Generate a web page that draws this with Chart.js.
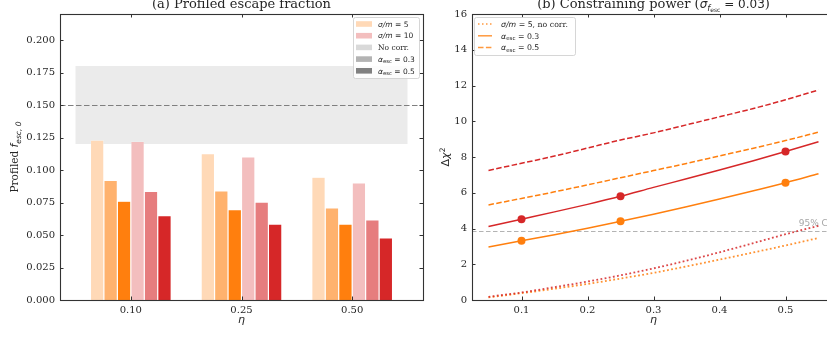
<!DOCTYPE html>
<html><head><meta charset="utf-8">
<script src="https://cdn.jsdelivr.net/npm/chart.js@4/dist/chart.umd.min.js"></script>
<style>
html,body{margin:0;padding:0;background:#fff;width:827px;height:338px;overflow:hidden;position:relative}
canvas{position:absolute;top:0}
#c1{left:0}
#c2{left:430px}
</style></head><body>
<canvas id="c1" width="440" height="338"></canvas>
<canvas id="c2" width="420" height="338"></canvas>
<script>
// ---------- Panel (a): profiled escape fraction ----------
const etaCategories = [0, 1, 2];
const etaLabels = ['0.10', '0.25', '0.50'];
const fescS5NoCorr  = [0.123, 0.1125, 0.0945];
const fescS5A03     = [0.092, 0.084, 0.0708];
const fescS5A05     = [0.076, 0.0695, 0.0584];
const fescS10NoCorr = [0.122, 0.110, 0.090];
const fescS10A03    = [0.0835, 0.0753, 0.0616];
const fescS10A05    = [0.0648, 0.0584, 0.0478];
const fescTicks = [0, 0.025, 0.05, 0.075, 0.1, 0.125, 0.15, 0.175, 0.2];
const fescFiducial = 0.15;
const fescBand = [0.12, 0.18];
const bandEta = [-0.5, 2.5];

// ---------- Panel (b): constraining power ----------
const etaGrid = [0.05, 0.10, 0.15, 0.20, 0.25, 0.30, 0.35, 0.40, 0.45, 0.50, 0.55];
const chi2S5NoCorr  = [0.15, 0.38, 0.63, 0.90, 1.20, 1.52, 1.88, 2.26, 2.65, 3.05, 3.47];
const chi2S10NoCorr = [0.18, 0.42, 0.72, 1.03, 1.38, 1.77, 2.20, 2.67, 3.17, 3.68, 4.15];
const chi2S5A03     = [2.97, 3.31, 3.65, 4.01, 4.40, 4.80, 5.22, 5.65, 6.10, 6.56, 7.06];
const chi2S10A03    = [4.11, 4.52, 4.93, 5.35, 5.80, 6.30, 6.78, 7.27, 7.78, 8.31, 8.85];
const chi2S5A05     = [5.32, 5.68, 6.05, 6.44, 6.84, 7.24, 7.64, 8.06, 8.48, 8.92, 9.39];
const chi2S10A05    = [7.25, 7.65, 8.05, 8.50, 8.95, 9.35, 9.80, 10.25, 10.70, 11.20, 11.75];
const etaMarks = [0.10, 0.25, 0.50];
const chi2MarksS5  = [3.31, 4.40, 6.56];
const chi2MarksS10 = [4.52, 5.80, 8.31];
const etaTicks = [0.1, 0.2, 0.3, 0.4, 0.5];
const chi2Ticks = [0, 2, 4, 6, 8, 10, 12, 14, 16];
const chi2Threshold = 3.84;
const clLabelEta = 0.52;

// ---------- style ----------
const SERIF = '"DejaVu Serif"';
const SANS = '"DejaVu Sans"';
const TXT = '#262626';
const SPINE = '#333333';
const ORANGE = '#ff7f0e';
const RED = '#d62728';
const f = (size, fam, style) => `${style || ''} ${size}px ${fam}`;

function drawRich(ctx, x, y, segs, align) {
  let w = 0;
  segs.forEach(s => { ctx.font = s.f; s.w = ctx.measureText(s.t).width; w += s.w; });
  let cx = align === 'center' ? x - w / 2 : (align === 'right' ? x - w : x);
  segs.forEach(s => { ctx.font = s.f; ctx.fillText(s.t, cx, y + (s.dy || 0)); cx += s.w; });
  return w;
}

function drawFrameAndTicks(chart, xTicks, yTicks) {
  const { ctx, chartArea: a, scales: { x, y } } = chart;
  const L = 3.5;
  ctx.save();
  ctx.strokeStyle = SPINE;
  ctx.lineWidth = 1;
  ctx.beginPath();
  xTicks.forEach(v => {
    const px = Math.round(x.getPixelForValue(v)) + 0.5;
    ctx.moveTo(px, a.bottom); ctx.lineTo(px, a.bottom - L);
    ctx.moveTo(px, a.top); ctx.lineTo(px, a.top + L);
  });
  yTicks.forEach(v => {
    const py = Math.round(y.getPixelForValue(v)) + 0.5;
    ctx.moveTo(a.left, py); ctx.lineTo(a.left + L, py);
    ctx.moveTo(a.right, py); ctx.lineTo(a.right - L, py);
  });
  ctx.stroke();
  ctx.lineWidth = 1.1;
  ctx.strokeRect(Math.round(a.left) + 0.5, Math.round(a.top) + 0.5, Math.round(a.right - a.left), Math.round(a.bottom - a.top));
  ctx.restore();
}

function legendBox(ctx, x, y, w, h) {
  ctx.save();
  ctx.fillStyle = 'rgba(255,255,255,0.85)';
  ctx.strokeStyle = '#cccccc';
  ctx.lineWidth = 0.8;
  ctx.beginPath();
  ctx.roundRect(x + 0.5, y + 0.5, w, h, 2);
  ctx.fill(); ctx.stroke();
  ctx.restore();
}

// ---------- Panel (a) chart ----------
const seriesA = [
  { label: 'σ/m=5, no corr.',  values: fescS5NoCorr,  color: '#ffd9b7' },
  { label: 'σ/m=5, α=0.3',     values: fescS5A03,     color: '#ffb26e' },
  { label: 'σ/m=5, α=0.5',     values: fescS5A05,     color: ORANGE },
  { label: 'σ/m=10, no corr.', values: fescS10NoCorr, color: '#f3bebe' },
  { label: 'σ/m=10, α=0.3',    values: fescS10A03,    color: '#e67d7e' },
  { label: 'σ/m=10, α=0.5',    values: fescS10A05,    color: RED }
];

const panelA = {
  id: 'panelA',
  beforeDatasetsDraw(chart) {
    const { ctx, chartArea: a, scales: { x, y } } = chart;
    ctx.save();
    const x0 = x.getPixelForValue(bandEta[0]), x1 = x.getPixelForValue(bandEta[1]);
    const y0 = y.getPixelForValue(fescBand[1]), y1 = y.getPixelForValue(fescBand[0]);
    ctx.fillStyle = '#ebebeb';
    ctx.fillRect(x0, y0, x1 - x0, y1 - y0);
    ctx.strokeStyle = '#7f7f7f';
    ctx.lineWidth = 1.2;
    ctx.setLineDash([5.5, 2.5]);
    const yf = Math.round(y.getPixelForValue(fescFiducial)) + 0.5;
    ctx.beginPath(); ctx.moveTo(a.left, yf); ctx.lineTo(a.right, yf); ctx.stroke();
    ctx.restore();
  },
  afterDraw(chart) {
    const { ctx, chartArea: a } = chart;
    drawFrameAndTicks(chart, etaCategories, fescTicks);
    ctx.save();
    ctx.fillStyle = TXT;
    ctx.textBaseline = 'alphabetic';
    // title
    drawRich(ctx, (a.left + a.right) / 2, 8, [{ t: '(a) Profiled escape fraction', f: f(13, SERIF) }], 'center');
    // x title
    drawRich(ctx, (a.left + a.right) / 2, 323, [{ t: 'η', f: f(11, SANS, 'italic') }], 'center');
    // y title (rotated)
    ctx.save();
    ctx.translate(18, (a.top + a.bottom) / 2);
    ctx.rotate(-Math.PI / 2);
    drawRich(ctx, 0, 0, [
      { t: 'Profiled ', f: f(10.5, SERIF) },
      { t: 'f', f: f(10.5, SANS, 'italic') },
      { t: 'esc, 0', f: f(7.5, SANS, 'italic'), dy: 2.5 }
    ], 'center');
    ctx.restore();
    // legend
    const lx = a.right - 70, ly = a.top + 3;
    legendBox(ctx, lx, ly, 66, 61);
    const rows = [
      { c: '#ffd9b7', s: [{ t: 'σ/m', f: f(7.5, SANS, 'italic') }, { t: ' = 5', f: f(7.5, SANS) }] },
      { c: '#f3bebe', s: [{ t: 'σ/m', f: f(7.5, SANS, 'italic') }, { t: ' = 10', f: f(7.5, SANS) }] },
      { c: '#d9d9d9', s: [{ t: 'No corr.', f: f(7.5, SERIF) }] },
      { c: '#b3b3b3', s: [{ t: 'α', f: f(7.5, SANS, 'italic') }, { t: 'esc', f: f(5.3, SANS), dy: 1.6 }, { t: ' = 0.3', f: f(7.5, SANS) }] },
      { c: '#808080', s: [{ t: 'α', f: f(7.5, SANS, 'italic') }, { t: 'esc', f: f(5.3, SANS), dy: 1.6 }, { t: ' = 0.5', f: f(7.5, SANS) }] }
    ];
    rows.forEach((r, i) => {
      const cy = ly + 7 + i * 11.7;
      ctx.fillStyle = r.c;
      ctx.fillRect(lx + 3, cy - 2.8, 16, 5.6);
      ctx.fillStyle = TXT;
      drawRich(ctx, lx + 25, cy + 2.7, r.s, 'left');
    });
    ctx.restore();
  }
};

new Chart(document.getElementById('c1'), {
  type: 'bar',
  data: {
    datasets: seriesA.map(s => ({
      label: s.label,
      data: etaCategories.map((c, i) => ({ x: c, y: s.values[i] })),
      backgroundColor: s.color,
      borderColor: 'rgba(255,255,255,0.45)',
      borderWidth: 0.6,
      barPercentage: 1,
      categoryPercentage: 0.73
    }))
  },
  options: {
    responsive: false, animation: false, devicePixelRatio: 1,
    layout: { padding: { left: 0, right: 17, top: 14, bottom: 0 } },
    plugins: { legend: { display: false }, tooltip: { enabled: false }, title: { display: false } },
    scales: {
      x: {
        type: 'linear', min: -0.64, max: 2.64, offset: false,
        grid: { display: false, drawTicks: false }, border: { display: false },
        afterBuildTicks: s => { s.ticks = etaCategories.map(v => ({ value: v })); },
        afterFit: s => { s.height = 38; },
        ticks: { callback: v => etaLabels[etaCategories.indexOf(v)], font: { family: 'DejaVu Serif', size: 10 }, color: TXT, padding: 4, maxRotation: 0, autoSkip: false }
      },
      y: {
        min: 0, max: 0.22,
        grid: { display: false, drawTicks: false }, border: { display: false },
        afterBuildTicks: s => { s.ticks = fescTicks.map(v => ({ value: v })); },
        afterFit: s => { s.width = 60; },
        ticks: { callback: v => v.toFixed(3), font: { family: 'DejaVu Serif', size: 10 }, color: TXT, padding: 5, autoSkip: false }
      }
    }
  },
  plugins: [panelA]
});

// ---------- Panel (b) chart ----------
const pts = (xs, ys) => xs.map((x, i) => ({ x, y: ys[i] }));
const lineDs = (ys, color, dash, width) => ({
  data: pts(etaGrid, ys), borderColor: color, borderWidth: width || 1.5, borderDash: dash,
  pointRadius: 0, fill: false, cubicInterpolationMode: 'monotone', borderCapStyle: 'butt'
});
const markDs = (ys, color) => ({
  data: pts(etaMarks, ys), showLine: false, pointRadius: 4, pointBackgroundColor: color,
  pointBorderColor: color, pointBorderWidth: 0, borderColor: color
});

const panelB = {
  id: 'panelB',
  beforeDatasetsDraw(chart) {
    const { ctx, chartArea: a, scales: { x, y } } = chart;
    ctx.save();
    ctx.strokeStyle = '#aaaaaa';
    ctx.lineWidth = 0.9;
    ctx.setLineDash([4.5, 2.5]);
    const yc = Math.round(y.getPixelForValue(chi2Threshold)) + 0.5;
    ctx.beginPath(); ctx.moveTo(a.left, yc); ctx.lineTo(a.right, yc); ctx.stroke();
    ctx.setLineDash([]);
    ctx.fillStyle = '#a6a6a6';
    ctx.textBaseline = 'alphabetic';
    ctx.font = f(9, SANS);
    ctx.fillText('95% CL', x.getPixelForValue(clLabelEta), yc - 5.5);
    ctx.restore();
  },
  afterDraw(chart) {
    const { ctx, chartArea: a } = chart;
    drawFrameAndTicks(chart, etaTicks, chi2Ticks);
    ctx.save();
    ctx.fillStyle = TXT;
    ctx.textBaseline = 'alphabetic';
    drawRich(ctx, (a.left + a.right) / 2, 8, [
      { t: '(b) Constraining power (', f: f(13, SERIF) },
      { t: 'σ', f: f(12, SANS, 'italic') },
      { t: 'f', f: f(8.5, SANS, 'italic'), dy: 2.5 },
      { t: 'esc', f: f(6, SANS), dy: 4.2 },
      { t: ' = 0.03', f: f(12, SANS) },
      { t: ')', f: f(13, SERIF) }
    ], 'center');
    drawRich(ctx, (a.left + a.right) / 2, 323, [{ t: 'η', f: f(11, SANS, 'italic') }], 'center');
    ctx.save();
    ctx.translate(19, (a.top + a.bottom) / 2);
    ctx.rotate(-Math.PI / 2);
    drawRich(ctx, 0, 0, [
      { t: 'Δ', f: f(11, SANS) },
      { t: 'χ', f: f(11, SANS, 'italic') },
      { t: '2', f: f(7.5, SANS), dy: -4.5 }
    ], 'center');
    ctx.restore();
    // legend
    const lx = a.left + 2, ly = a.top + 3;
    legendBox(ctx, lx, ly, 101, 38);
    const rows = [
      { dash: [1.5, 2.5], s: [{ t: 'σ/m', f: f(7.8, SANS, 'italic') }, { t: ' = 5', f: f(7.8, SANS) }, { t: ', no corr.', f: f(7.8, SERIF) }] },
      { dash: [], s: [{ t: 'α', f: f(7.8, SANS, 'italic') }, { t: 'esc', f: f(5.5, SANS), dy: 1.6 }, { t: ' = 0.3', f: f(7.8, SANS) }] },
      { dash: [5.5, 2.4], s: [{ t: 'α', f: f(7.8, SANS, 'italic') }, { t: 'esc', f: f(5.5, SANS), dy: 1.6 }, { t: ' = 0.5', f: f(7.8, SANS) }] }
    ];
    rows.forEach((r, i) => {
      const cy = ly + 7 + i * 11.8;
      ctx.save();
      ctx.strokeStyle = ORANGE;
      ctx.globalAlpha = 0.8;
      ctx.lineWidth = 1.5;
      ctx.setLineDash(r.dash);
      ctx.beginPath(); ctx.moveTo(lx + 4, cy); ctx.lineTo(lx + 18, cy); ctx.stroke();
      ctx.restore();
      ctx.fillStyle = TXT;
      drawRich(ctx, lx + 27, cy + 2.8, r.s, 'left');
    });
    ctx.restore();
  }
};

new Chart(document.getElementById('c2'), {
  type: 'line',
  data: {
    datasets: [
      markDs(chi2MarksS10, RED),
      markDs(chi2MarksS5, ORANGE),
      lineDs(chi2S10A03, RED, []),
      lineDs(chi2S5A03, ORANGE, []),
      lineDs(chi2S10A05, RED, [5.5, 2.4]),
      lineDs(chi2S5A05, ORANGE, [5.5, 2.4]),
      lineDs(chi2S10NoCorr, 'rgba(214,39,40,0.85)', [1.8, 2.4], 1.8),
      lineDs(chi2S5NoCorr, 'rgba(255,127,14,0.85)', [1.8, 2.4], 1.8)
    ]
  },
  options: {
    responsive: false, animation: false, devicePixelRatio: 1,
    layout: { padding: { left: 0, right: 15, top: 14, bottom: 0 } },
    plugins: { legend: { display: false }, tooltip: { enabled: false }, title: { display: false } },
    scales: {
      x: {
        type: 'linear', min: 0.025, max: 0.575,
        grid: { display: false, drawTicks: false }, border: { display: false },
        afterBuildTicks: s => { s.ticks = etaTicks.map(v => ({ value: v })); },
        afterFit: s => { s.height = 38; },
        ticks: { callback: v => v.toFixed(1), font: { family: 'DejaVu Serif', size: 10 }, color: TXT, padding: 4, maxRotation: 0, autoSkip: false }
      },
      y: {
        min: 0, max: 16,
        grid: { display: false, drawTicks: false }, border: { display: false },
        afterBuildTicks: s => { s.ticks = chi2Ticks.map(v => ({ value: v })); },
        afterFit: s => { s.width = 42; },
        ticks: { callback: v => String(v), font: { family: 'DejaVu Serif', size: 10 }, color: TXT, padding: 5, autoSkip: false }
      }
    }
  },
  plugins: [panelB]
});
</script>
</body></html>
